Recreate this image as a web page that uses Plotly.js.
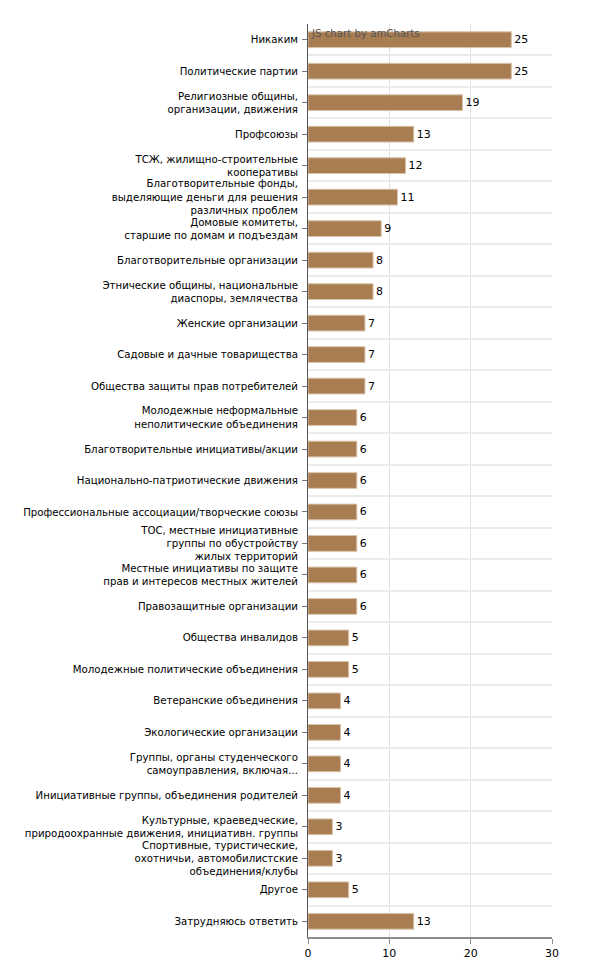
<!DOCTYPE html>
<html>
<head>
<meta charset="utf-8">
<script src="https://cdn.plot.ly/plotly-3.0.1.min.js"></script>
<style>html,body{margin:0;padding:0;background:#fff;}#chart{width:602px;height:976px;}</style>
</head>
<body>
<div id="chart"></div>
<script>
const categories = [
  "Никаким",
  "Политические партии",
  "Религиозные общины,<br>организации, движения",
  "Профсоюзы",
  "ТСЖ, жилищно-строительные<br>кооперативы",
  "Благотворительные фонды,<br>выделяющие деньги для решения<br>различных проблем",
  "Домовые комитеты,<br>старшие по домам и подъездам",
  "Благотворительные организации",
  "Этнические общины, национальные<br>диаспоры, землячества",
  "Женские организации",
  "Садовые и дачные товарищества",
  "Общества защиты прав потребителей",
  "Молодежные неформальные<br>неполитические объединения",
  "Благотворительные инициативы/акции",
  "Национально-патриотические движения",
  "Профессиональные ассоциации/творческие союзы",
  "ТОС, местные инициативные<br>группы по обустройству<br>жилых территорий",
  "Местные инициативы по защите<br>прав и интересов местных жителей",
  "Правозащитные организации",
  "Общества инвалидов",
  "Молодежные политические объединения",
  "Ветеранские объединения",
  "Экологические организации",
  "Группы, органы студенческого<br>самоуправления, включая...",
  "Инициативные группы, объединения родителей",
  "Культурные, краеведческие,<br>природоохранные движения, инициативн. группы",
  "Спортивные, туристические,<br>охотничьи, автомобилистские<br>объединения/клубы",
  "Другое",
  "Затрудняюсь ответить"
];
const values = [25, 25, 19, 13, 12, 11, 9, 8, 8, 7, 7, 7, 6, 6, 6, 6, 6, 6, 6, 5, 5, 4, 4, 4, 4, 3, 3, 5, 13];
const xTicks = [0, 10, 20, 30];

const font = "DejaVu Sans, Verdana, sans-serif";
const fs = 10.2;

const bars = {
  type: "bar",
  orientation: "h",
  x: values,
  y: categories,
  width: 0.5,
  marker: {color: "#a87d52", line: {color: "#d9c3aa", width: 1}},
  text: values.map(String),
  textposition: "outside",
  textfont: {family: font, size: 11, color: "#000"},
  cliponaxis: false,
  hoverinfo: "x+y"
};
const gridHelper = {
  type: "scatter", mode: "markers", x: [], y: [], yaxis: "y2", showlegend: false, hoverinfo: "skip"
};

const layout = {
  width: 602, height: 976,
  margin: {l: 308, r: 50, t: 24, b: 39},
  paper_bgcolor: "#fff", plot_bgcolor: "#fff",
  showlegend: false,
  bargap: 0.5,
  font: {family: font, size: fs, color: "#000"},
  xaxis: {
    range: [0, 30], tickvals: xTicks, ticktext: xTicks.map(String),
    showgrid: true, gridcolor: "#e0e0e0", gridwidth: 1,
    zeroline: false, showline: true, linecolor: "#8c8c8c", linewidth: 2,
    ticks: "outside", ticklen: 5, tickcolor: "#8c8c8c",
    tickfont: {family: font, size: 11, color: "#000"}, fixedrange: true
  },
  yaxis: {
    type: "category", categoryorder: "array", categoryarray: categories,
    range: [categories.length - 0.5, -0.5],
    showgrid: false, zeroline: false, showline: true, linecolor: "#555", linewidth: 1,
    ticks: "outside", ticklen: 5, tickcolor: "#777", ticklabelstandoff: 2,
    tickfont: {family: font, size: fs, color: "#000"}, fixedrange: true
  },
  yaxis2: {
    overlaying: "y", side: "right",
    range: [categories.length - 0.5, -0.5],
    tick0: 0.5, dtick: 1, showticklabels: false, ticks: "",
    showgrid: true, gridcolor: "#ebebeb", gridwidth: 2,
    zeroline: false, showline: false, fixedrange: true
  },
  annotations: [{
    text: "JS chart by amCharts", xref: "paper", yref: "paper",
    x: 0, y: 1, xanchor: "left", yanchor: "top", xshift: 1, yshift: -2,
    showarrow: false, font: {family: font, size: fs, color: "#555"}
  }]
};

Plotly.newPlot("chart", [gridHelper, bars], layout, {displayModeBar: false, staticPlot: true});
</script>
</body>
</html>
